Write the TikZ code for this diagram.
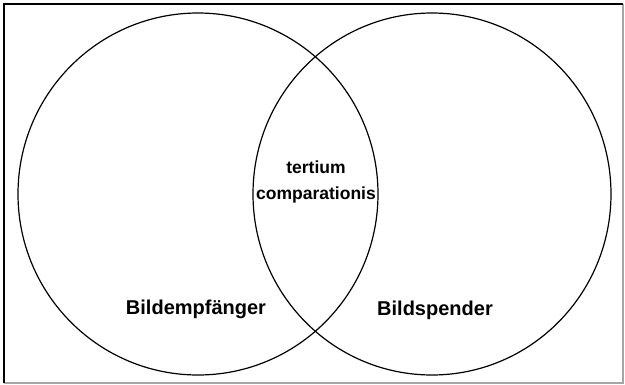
\documentclass[tikz,border=0pt]{standalone}
\usepackage{fontspec}
\setmainfont{Liberation Sans}
\usepackage{tikz}
\usetikzlibrary{calc}

\tikzset{
  setline/.style={line width=1.2pt},
  setlabel/.style={font=\bfseries\fontsize{20}{24}\selectfont, inner sep=0pt},
  midlabel/.style={font=\bfseries\fontsize{17.5}{26}\selectfont, align=center, inner sep=0pt}
}

\begin{document}
\begin{tikzpicture}[x=1pt,y=1pt]
  \useasboundingbox (0,0) rectangle (625,-384);
  \fill[white] (0,0) rectangle (625,-384);
  % frame
  \draw[gray!70, line width=1.2pt] (4,-383) -- (623,-383) -- (623,-4);
  \draw[line width=1.6pt] (4,-383) -- (4,-4) -- (623,-4);
  % the two sets
  \draw[setline] (198,-194) ellipse (180 and 181);
  \draw[setline] (432,-194) ellipse (179 and 181);
  \node[midlabel] (tc) at (316,-182) {tertium\\comparationis};
  \node[setlabel] (empf) at (196,-309) {Bildempf\"anger};
  \node[setlabel] (spend) at (435,-310) {Bildspender};
\end{tikzpicture}
\end{document}
